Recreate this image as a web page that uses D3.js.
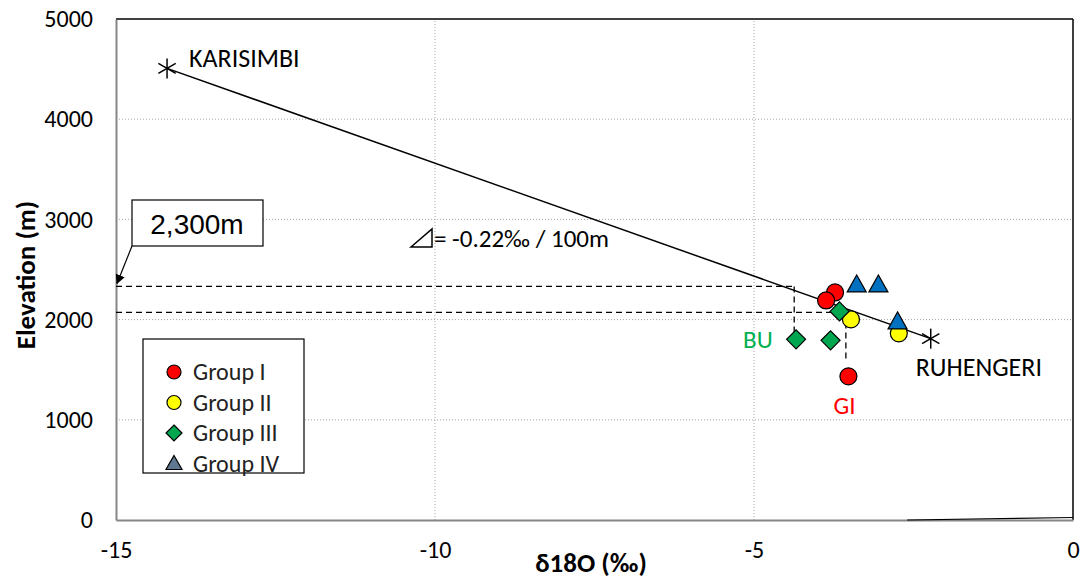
<!DOCTYPE html>
<html>
<head>
<meta charset="utf-8">
<script src="https://cdn.jsdelivr.net/npm/d3@7"></script>
<style>
  body { margin: 0; background: #fff; }
  svg text { font-family: Carlito, Lato, "Open Sans", sans-serif; }
</style>
</head>
<body>
<div id="chart"></div>
<script>
// axis ticks
var xTicks = [-15, -10, -5, 0];
var yTicks = [0, 1000, 2000, 3000, 4000, 5000];

// end members of the altitude line
var stations = [
  {name: "KARISIMBI", d18o: -14.2, elev: 4507},
  {name: "RUHENGERI", d18o: -2.23, elev: 1810}
];

// samples by group
var groupI   = [[-3.73, 2271], [-3.87, 2191], [-3.52, 1434]];
var groupII  = [[-3.48, 2002], [-2.73, 1863]];
var groupIII = [[-3.66, 2082], [-4.34, 1803], [-3.80, 1793]];
var groupIV  = [[-3.39, 2351], [-3.05, 2351], [-2.75, 1982]];

var groups = [
  {name: "Group I", pts: groupI, shape: "circle", fill: "#ff0000"},
  {name: "Group II", pts: groupII, shape: "circle", fill: "#ffff00"},
  {name: "Group III", pts: groupIII, shape: "diamond", fill: "#00a650"},
  {name: "Group IV", pts: groupIV, shape: "triangle", fill: "#0070c0"}
];

// dashed guide lines [x1, y1, x2, y2]
var guides = [
  [-15, 2331, -4.37, 2331],
  [-4.37, 2331, -4.37, 1850],
  [-15, 2072, -3.66, 2072],
  [-3.56, 2072, -3.56, 1590]
];
var tailLine = [[-2.6, 0], [0, 25]];

var W = 1081, H = 581;
var svg = d3.select("#chart").append("svg").attr("width", W).attr("height", H);

var x = d3.scaleLinear().domain([-15, 0]).range([116, 1073]);
var y = d3.scaleLinear().domain([0, 5000]).range([520, 19]);

// gridlines
svg.append("g").selectAll("line").data(yTicks.filter(function(d){ return d > 0 && d < 5000; }))
  .enter().append("line")
  .attr("x1", x(-15)).attr("x2", x(0))
  .attr("y1", function(d){ return y(d); }).attr("y2", function(d){ return y(d); })
  .attr("stroke", "#a6a6a6").attr("stroke-dasharray", "1,2");
svg.append("g").selectAll("line").data(xTicks.filter(function(d){ return d > -15 && d < 0; }))
  .enter().append("line")
  .attr("y1", y(0)).attr("y2", y(5000))
  .attr("x1", function(d){ return x(d); }).attr("x2", function(d){ return x(d); })
  .attr("stroke", "#a6a6a6").attr("stroke-dasharray", "1,2");

// frame: top & right black, left & bottom gray
svg.append("line").attr("x1", x(-15)).attr("x2", x(0)).attr("y1", y(5000)).attr("y2", y(5000))
  .attr("stroke", "#000").attr("stroke-width", 1.5);
svg.append("line").attr("x1", x(0)).attr("x2", x(0)).attr("y1", y(5000)).attr("y2", y(0))
  .attr("stroke", "#000").attr("stroke-width", 1.5);

// axes
var fmt = function(d){ return String(d); };
var yAxis = svg.append("g").attr("transform", "translate(" + x(-15) + ",0)")
  .call(d3.axisLeft(y).tickValues(yTicks).tickFormat(fmt).tickSize(0).tickPadding(23));
var xAxis = svg.append("g").attr("transform", "translate(0," + y(0) + ")")
  .call(d3.axisBottom(x).tickValues(xTicks).tickFormat(fmt).tickSize(0).tickPadding(21));
[xAxis, yAxis].forEach(function(a){
  a.select(".domain").attr("stroke", "#868686").attr("stroke-width", 2);
  a.selectAll("text").style("font-size", "24px").attr("fill", "#000")
    .style("font-family", "Carlito, Lato, sans-serif");
});

svg.append("path").datum(tailLine)
  .attr("d", d3.line().x(function(d){ return x(d[0]); }).y(function(d){ return y(d[1]); }))
  .attr("fill", "none").attr("stroke", "#000").attr("stroke-width", 1.2);

// axis titles
svg.append("text").attr("x", 591).attr("y", 572).attr("text-anchor", "middle")
  .style("font-size", "27px").attr("font-weight", "bold").text("δ18O (‰)");
svg.append("text").attr("transform", "translate(35,275) rotate(-90)").attr("text-anchor", "middle")
  .style("font-size", "27px").attr("font-weight", "bold").text("Elevation (m)");

// dashed guides
svg.append("g").selectAll("line").data(guides).enter().append("line")
  .attr("x1", function(d){ return x(d[0]); }).attr("y1", function(d){ return y(d[1]); })
  .attr("x2", function(d){ return x(d[2]); }).attr("y2", function(d){ return y(d[3]); })
  .attr("stroke", "#000").attr("stroke-width", 1.3).attr("stroke-dasharray", "6,4");

// altitude line
svg.append("line")
  .attr("x1", x(stations[0].d18o)).attr("y1", y(stations[0].elev))
  .attr("x2", x(stations[1].d18o)).attr("y2", y(stations[1].elev))
  .attr("stroke", "#000").attr("stroke-width", 1.5);

// star markers
function star(g, r) {
  [0, 60, 120].forEach(function(a){
    var rad = (a + 90) * Math.PI / 180;
    g.append("line").attr("x1", -r * Math.cos(rad)).attr("y1", -r * Math.sin(rad))
      .attr("x2", r * Math.cos(rad)).attr("y2", r * Math.sin(rad))
      .attr("stroke", "#000").attr("stroke-width", 1.5);
  });
}
stations.forEach(function(s){
  var g = svg.append("g").attr("transform", "translate(" + x(s.d18o) + "," + y(s.elev) + ")");
  star(g, 10);
});
svg.append("text").attr("x", x(stations[0].d18o) + 22).attr("y", y(stations[0].elev) - 1)
  .style("font-size", "26px").text(stations[0].name);
svg.append("text").attr("x", x(stations[1].d18o) - 15).attr("y", y(stations[1].elev) + 37)
  .style("font-size", "26px").text(stations[1].name);

// point markers
function marker(sel, shape, fill, s) {
  if (shape === "circle") {
    sel.append("circle").attr("r", s).attr("fill", fill).attr("stroke", "#000").attr("stroke-width", 1.2);
  } else if (shape === "diamond") {
    sel.append("path").attr("d", "M0," + (-s - 1) + "L" + (s + 1) + ",0L0," + (s + 1) + "L" + (-s - 1) + ",0Z")
      .attr("fill", fill).attr("stroke", "#000").attr("stroke-width", 1.2);
  } else {
    sel.append("path").attr("d", "M0," + (-s - 1) + "L" + (s + 1) + "," + (s - 1) + "L" + (-s - 1) + "," + (s - 1) + "Z")
      .attr("fill", fill).attr("stroke", "#000").attr("stroke-width", 1.2);
  }
}
groups.forEach(function(gr){
  gr.pts.forEach(function(p){
    var g = svg.append("g").attr("transform", "translate(" + x(p[0]) + "," + y(p[1]) + ")");
    marker(g, gr.shape, gr.fill, 8.5);
  });
});

svg.append("text").attr("x", x(groupIII[1][0]) - 53).attr("y", y(groupIII[1][1]) + 9)
  .style("font-size", "25px").attr("fill", "#00b050").text("BU");
svg.append("text").attr("x", x(groupI[2][0]) - 15).attr("y", y(groupI[2][1]) + 38)
  .style("font-size", "25px").attr("fill", "#ff0000").text("GI");

// slope annotation
svg.append("path").attr("d", "M411,247L432,229L432,247Z").attr("fill", "none")
  .attr("stroke", "#000").attr("stroke-width", 1.5);
svg.append("text").attr("x", 434).attr("y", 247).style("font-size", "25px").text("= -0.22‰ / 100m");

// 2,300m callout
svg.append("rect").attr("x", 132).attr("y", 200).attr("width", 131).attr("height", 46)
  .attr("fill", "#fff").attr("stroke", "#000").attr("stroke-width", 1.2);
svg.append("text").attr("x", 197).attr("y", 234).attr("text-anchor", "middle")
  .style("font-family", "Liberation Sans, Arial, sans-serif").style("font-size", "28px").text("2,300m");
svg.append("defs").append("marker").attr("id", "ah").attr("viewBox", "0 0 10 10")
  .attr("refX", 9).attr("refY", 5).attr("markerWidth", 8).attr("markerHeight", 8)
  .attr("orient", "auto").append("path").attr("d", "M0,0L10,5L0,10Z").attr("fill", "#000");
svg.append("line").attr("x1", 132).attr("y1", 246).attr("x2", x(-15) + 1).attr("y2", y(2331) - 3)
  .attr("stroke", "#000").attr("stroke-width", 1.2).attr("marker-end", "url(#ah)");

// legend
var leg = svg.append("g").attr("transform", "translate(143,339)");
leg.append("rect").attr("width", 161).attr("height", 134)
  .attr("fill", "#fff").attr("stroke", "#000").attr("stroke-width", 1.2);
groups.forEach(function(gr, i){
  var row = leg.append("g").attr("transform", "translate(31," + (33 + i * 30.5) + ")");
  marker(row, gr.shape, i === 3 ? "#5f7790" : gr.fill, 7);
  row.append("text").attr("x", 19).attr("y", 8).style("font-size", "24px").attr("fill", "#222").text(gr.name);
});
</script>
</body>
</html>
